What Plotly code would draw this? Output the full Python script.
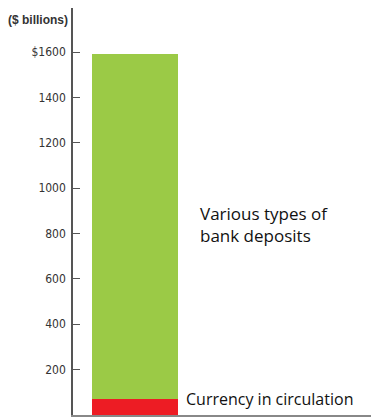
import plotly.graph_objects as go

categories = ["Money supply"]
currency = [70]
deposits = [1520]
tick_vals = [0, 200, 400, 600, 800, 1000, 1200, 1400, 1600]
tick_text = ["0", "200", "400", "600", "800", "1000", "1200", "1400", "$1600"]

fig = go.Figure()
fig.add_bar(x=categories, y=currency, marker=dict(color="#ED1C24", line=dict(width=0)),
            width=0.6, name="Currency in circulation")
fig.add_bar(x=categories, y=deposits, marker=dict(color="#9BCA46", line=dict(width=0)),
            width=0.6, name="Various types of bank deposits")

fig.update_layout(
    barmode="stack",
    width=371, height=410,
    margin=dict(l=65, r=4, t=0, b=3),
    plot_bgcolor="white", paper_bgcolor="white",
    showlegend=False,
    font=dict(family="DejaVu Sans Condensed, Liberation Sans, Arial", color="#333"),
)
fig.update_xaxes(type="category", range=[-0.4326, 1.6744], showticklabels=False,
                 showline=True, linecolor="#888", linewidth=1.5, ticks="", showgrid=False,
                 fixedrange=True)
fig.update_yaxes(range=[0, 1794], tickvals=tick_vals, ticktext=tick_text,
                 showline=True, linecolor="#555", linewidth=1.5, ticks="inside",
                 ticklen=7, tickcolor="#555", tickwidth=1, showgrid=False, zeroline=False,
                 ticklabelstandoff=3,
                 tickfont=dict(size=12, color="#333"))

fig.add_annotation(text="<b>($ billions)</b>", xref="paper", yref="paper", x=-0.01, y=0.9705,
                   xanchor="right", yanchor="middle", showarrow=False,
                   font=dict(size=12, color="#333", family="Liberation Sans, Arial"))
fig.add_annotation(text="Various types of<br>bank deposits", xref="x", yref="y",
                   x=0.0, y=838, xshift=63, xanchor="left", yanchor="middle",
                   align="left", showarrow=False,
                   font=dict(size=17, color="#111", family="Open Sans, Liberation Sans"))
fig.add_annotation(text="Currency in circulation", xref="x", yref="y",
                   x=0.0, y=currency[0], xshift=49, xanchor="left", yanchor="middle",
                   align="left", showarrow=False,
                   font=dict(size=16, color="#111", family="Open Sans, Liberation Sans"))

fig.write_html("out.html")
